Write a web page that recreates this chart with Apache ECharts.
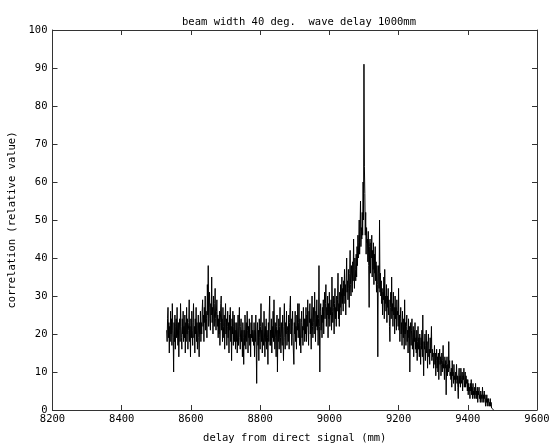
<!DOCTYPE html>
<html>
<head>
<meta charset="utf-8">
<script src="https://cdn.jsdelivr.net/npm/echarts@6/dist/echarts.min.js"></script>
<style>html,body{margin:0;padding:0;background:#fff}#c{width:549px;height:447px}</style>
</head>
<body>
<div id="c"></div>
<script>
// sample spacing (mm) and the delay where each block of samples starts
var delayStep = 1.25;
var segStart = [8530, 8580, 8630, 8680, 8730, 8780, 8830, 8880, 8930, 8980,
                9030, 9080, 9100, 9150, 9200, 9250, 9300, 9350, 9400];
// correlation values, one block per start above
var s8530 = [21,18,24,27,19,23,15,22,18,26,20,24,17,28,21,19,10,23,18,25,16,22,24,19,27,20,17,23,14,21,24,18,28,22,19,16,24,20,26,18];
var s8580 = [22,19,25,15,23,18,27,20,24,16,21,23,29,18,22,14,24,19,26,21,17,23,28,19,22,15,24,20,27,18,23,16,21,25,19,14,23,20,26,18];
var s8630 = [23,20,26,29,22,25,18,27,23,30,21,26,24,19,33,25,38,22,27,31,24,21,28,25,35,23,27,20,30,25,22,28,32,24,21,26,29,22,25,19];
var s8680 = [24,20,26,17,23,28,30,21,24,18,27,22,19,25,16,23,28,20,24,17,22,26,19,23,15,25,21,27,18,22,13,24,20,26,17,22,25,18,23,16];
var s8730 = [21,18,23,15,20,25,17,22,27,19,16,22,24,18,21,14,23,19,12,21,17,25,20,16,23,18,26,21,15,22,19,24,17,20,14,23,19,25,18,21];
var s8780 = [20,17,23,14,21,18,25,16,7,20,23,17,21,13,24,19,16,22,28,18,21,15,23,19,17,26,20,14,22,18,24,16,21,19,12,23,18,25,30,17];
var s8830 = [21,17,24,15,22,19,26,18,29,20,16,23,19,14,22,25,10,21,18,24,16,22,27,19,15,23,20,17,25,18,13,22,28,19,16,23,20,26,17,21];
var s8880 = [22,18,25,16,23,27,30,20,24,17,22,26,19,15,12,23,20,26,18,22,16,25,21,28,19,23,28,17,24,20,15,23,26,19,22,17,27,21,24,18];
var s8930 = [24,20,27,18,25,22,29,21,17,26,23,28,20,24,16,25,30,22,19,27,23,20,31,24,18,26,22,29,21,25,17,24,38,22,10,26,28,21,25,19];
var s8980 = [27,23,29,20,26,31,24,28,33,22,27,25,30,19,28,24,31,22,27,25,29,21,35,26,23,30,27,20,28,32,24,27,22,30,26,29,36,24,28,22];
var s9030 = [31,27,33,25,30,35,28,32,26,34,30,37,28,33,25,35,40,31,34,29,37,32,27,36,42,33,30,38,35,31,39,34,45,36,32,40,37,34,41,35];
var s9080 = [43,38,46,40,44,50,41,47,55,43,48,45,52,46,60,50];
var s9100 = [91,64,57,46,52,41,48,44,45,39,47,38,27,43,45,36,44,40,46,35,42,37,44,33,41,36,43,34,39,31,38,33,14,36,38,32,50,31,36,30];
var s9150 = [34,28,32,25,31,29,35,24,37,28,30,26,33,23,30,27,32,25,29,22,18,27,31,24,35,26,28,22,31,25,27,20,30,24,27,21,29,25,26,22];
var s9200 = [32,21,25,18,24,27,20,23,17,26,21,19,24,16,29,20,23,17,22,25,18,21,15,24,19,22,10,20,23,17,21,24,16,19,22,14,21,18,23,16];
var s9250 = [19,15,21,13,18,22,16,19,14,20,17,12,19,16,21,14,25,15,9,18,16,20,13,17,21,15,18,11,17,20,14,16,12,19,15,17,22,13,16,14];
var s9300 = [15,11,14,17,12,15,9,13,16,11,14,10,15,8,13,16,12,14,9,12,15,10,13,17,11,12,8,14,11,13,4,12,14,9,12,10,18,11,13,9];
var s9350 = [10,8,11,6,13,9,10,7,12,8,9,5,10,8,12,7,9,6,3,9,11,7,9,6,11,8,7,10,5,9,8,11,6,8,10,6,9,7,8,5];
var s9400 = [8,4,7,5,6,3,7,5,8,4,6,3,7,4,5,3,6,4,7,3,5,3,6,2,5,4,6,3,4,2,5,3,4,2,6,3,4,2,5,3,4,1,3,2,4,1,3,2,3,1,2,1,3,1,2,0.5,1,0.5,1,0.2,0];
var xTicks = {min: 8200, max: 9600, interval: 200};
var yTicks = {min: 0, max: 100, interval: 10};

var blocks = [s8530, s8580, s8630, s8680, s8730, s8780, s8830, s8880, s8930, s8980,
              s9030, s9080, s9100, s9150, s9200, s9250, s9300, s9350, s9400];
var pts = [];
blocks.forEach(function (b, k) {
  b.forEach(function (v, i) { pts.push([segStart[k] + i * delayStep, v]); });
});

var FONT = 'DejaVu Sans Mono';
var axisCommon = {
  axisLine: {show: true, onZero: false, lineStyle: {color: '#333', width: 1}},
  axisTick: {show: true, inside: true, length: 5, lineStyle: {color: '#333'}},
  splitLine: {show: false},
  nameTextStyle: {fontFamily: FONT, fontSize: 10.5, color: '#000'}
};
function ax(extra) { return Object.assign({}, axisCommon, extra); }
function plain(v) { return String(v); }

var chart = echarts.init(document.getElementById('c'), null, {renderer: 'canvas'});
chart.setOption({
  animation: false,
  backgroundColor: '#fff',
  title: {
    text: 'beam width 40 deg.  wave delay 1000mm',
    left: 294, top: 12, textAlign: 'center',
    textStyle: {fontFamily: FONT, fontSize: 10.5, fontWeight: 'normal', color: '#000'}
  },
  grid: {left: 52.5, right: 12, top: 30, bottom: 37, containLabel: false, outerBoundsMode: 'none'},
  xAxis: [
    ax({type: 'value', position: 'bottom', min: xTicks.min, max: xTicks.max, interval: xTicks.interval,
        name: 'delay from direct signal (mm)', nameLocation: 'middle', nameGap: 23,
        axisLabel: {fontFamily: FONT, fontSize: 10.5, color: '#000', margin: 4, formatter: plain}}),
    ax({type: 'value', position: 'top', min: xTicks.min, max: xTicks.max, interval: xTicks.interval,
        axisLabel: {show: false}})
  ],
  yAxis: [
    ax({type: 'value', position: 'left', min: yTicks.min, max: yTicks.max, interval: yTicks.interval,
        name: 'correlation (relative value)', nameLocation: 'middle', nameGap: 24,
        axisLabel: {fontFamily: FONT, fontSize: 10.5, color: '#000', margin: 5, formatter: plain}}),
    ax({type: 'value', position: 'right', min: yTicks.min, max: yTicks.max, interval: yTicks.interval,
        axisLabel: {show: false}})
  ],
  series: [{
    type: 'line',
    data: pts,
    xAxisIndex: 0, yAxisIndex: 0,
    showSymbol: false,
    symbol: 'none',
    lineStyle: {color: '#000', width: 1},
    silent: true
  }]
});
</script>
</body>
</html>
